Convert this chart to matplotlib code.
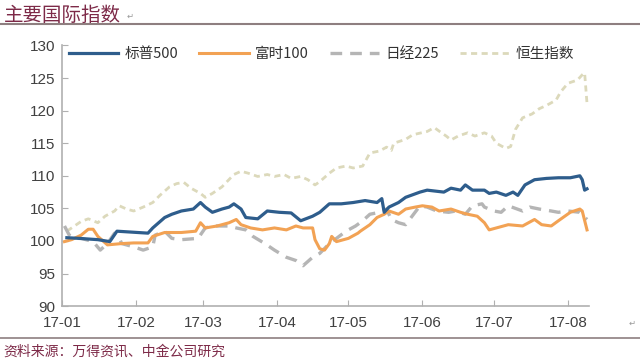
import numpy as np
import pandas as pd
import matplotlib
matplotlib.use('Agg')
import matplotlib.pyplot as plt
import matplotlib.dates as mdates

plt.rcParams['font.family'] = ['Liberation Sans Narrow', 'Liberation Sans', 'Noto Sans CJK SC', 'DejaVu Sans']

## data (index, end 2016 = 100)
spx_dates = ['2017-01-03', '2017-01-08', '2017-01-16', '2017-01-21', '2017-01-24', '2017-02-06',
             '2017-02-08', '2017-02-13', '2017-02-16', '2017-02-20', '2017-02-25', '2017-02-28',
             '2017-03-02', '2017-03-05', '2017-03-09', '2017-03-12', '2017-03-14', '2017-03-17',
             '2017-03-19', '2017-03-24', '2017-03-28', '2017-04-02', '2017-04-07', '2017-04-11',
             '2017-04-16', '2017-04-19', '2017-04-23', '2017-04-28', '2017-05-03', '2017-05-08',
             '2017-05-13', '2017-05-15', '2017-05-16', '2017-05-18', '2017-05-22', '2017-05-25',
             '2017-05-31', '2017-06-03', '2017-06-10', '2017-06-13', '2017-06-17', '2017-06-19',
             '2017-06-22', '2017-06-27', '2017-06-29', '2017-07-02', '2017-07-06', '2017-07-09',
             '2017-07-11', '2017-07-14', '2017-07-18', '2017-07-23', '2017-07-28', '2017-08-02',
             '2017-08-06', '2017-08-07', '2017-08-08', '2017-08-09']
spx = [100.5, 100.4, 100.2, 99.9, 101.5, 101.2,
       102.0, 103.6, 104.1, 104.6, 104.9, 105.9,
       105.2, 104.4, 104.9, 105.2, 105.7, 104.9,
       103.6, 103.4, 104.6, 104.4, 104.3, 103.1,
       103.8, 104.4, 105.7, 105.7, 105.9, 106.2,
       105.9, 106.5, 104.4, 105.2, 105.9, 106.7,
       107.5, 107.8, 107.5, 108.1, 107.8, 108.6,
       107.8, 107.8, 107.3, 107.5, 107.0, 107.5,
       107.0, 108.6, 109.4, 109.6, 109.7, 109.7,
       110.0, 109.4, 107.8, 108.0]

ftse_dates = ['2017-01-02', '2017-01-05', '2017-01-09', '2017-01-12', '2017-01-14', '2017-01-16',
              '2017-01-20', '2017-01-26', '2017-01-31', '2017-02-06', '2017-02-08', '2017-02-13',
              '2017-02-20', '2017-02-26', '2017-02-28', '2017-03-02', '2017-03-07', '2017-03-12',
              '2017-03-15', '2017-03-17', '2017-03-21', '2017-03-26', '2017-03-31', '2017-04-05',
              '2017-04-09', '2017-04-12', '2017-04-16', '2017-04-17', '2017-04-19', '2017-04-21',
              '2017-04-23', '2017-04-24', '2017-04-26', '2017-05-01', '2017-05-05', '2017-05-06',
              '2017-05-10', '2017-05-13', '2017-05-16', '2017-05-18', '2017-05-22', '2017-05-25',
              '2017-05-29', '2017-06-01', '2017-06-05', '2017-06-08', '2017-06-13', '2017-06-17',
              '2017-06-20', '2017-06-24', '2017-06-27', '2017-06-29', '2017-07-02', '2017-07-07',
              '2017-07-13', '2017-07-18', '2017-07-21', '2017-07-25', '2017-07-28', '2017-08-02',
              '2017-08-06', '2017-08-07', '2017-08-09']
ftse = [99.9, 100.2, 100.9, 101.8, 101.8, 100.7,
        99.4, 99.6, 99.7, 99.7, 100.7, 101.3,
        101.3, 101.5, 102.8, 102.0, 102.3, 102.8,
        103.3, 102.5, 102.0, 101.7, 102.0, 101.7,
        102.3, 102.0, 102.0, 100.2, 98.8, 98.6,
        99.6, 100.7, 99.9, 100.4, 101.2, 101.5,
        102.5, 103.6, 104.1, 104.6, 104.1, 104.9,
        105.2, 105.4, 105.2, 104.6, 104.9, 104.4,
        104.1, 103.8, 102.8, 101.7, 102.0, 102.5,
        102.3, 103.3, 102.5, 102.3, 103.1, 104.4,
        104.9, 104.6, 101.7]

nky_dates = ['2017-01-02', '2017-01-04', '2017-01-06', '2017-01-09', '2017-01-14', '2017-01-17',
             '2017-01-20', '2017-01-23', '2017-01-25', '2017-01-26', '2017-01-31', '2017-02-04',
             '2017-02-08', '2017-02-09', '2017-02-13', '2017-02-16', '2017-02-20', '2017-02-27',
             '2017-03-02', '2017-03-05', '2017-03-12', '2017-03-15', '2017-03-19', '2017-03-22',
             '2017-03-27', '2017-03-31', '2017-04-05', '2017-04-09', '2017-04-12', '2017-04-16',
             '2017-04-19', '2017-04-23', '2017-04-26', '2017-04-30', '2017-05-04', '2017-05-07',
             '2017-05-10', '2017-05-14', '2017-05-17', '2017-05-19', '2017-05-22', '2017-05-25',
             '2017-05-31', '2017-06-03', '2017-06-07', '2017-06-12', '2017-06-15', '2017-06-19',
             '2017-06-22', '2017-06-26', '2017-06-27', '2017-07-01', '2017-07-04', '2017-07-07',
             '2017-07-13', '2017-07-16', '2017-07-20', '2017-07-25', '2017-07-28', '2017-08-01',
             '2017-08-06', '2017-08-09']
nky = [102.3, 100.9, 100.4, 100.4, 99.9, 98.6,
       99.6, 101.2, 100.4, 99.6, 99.1, 98.6,
       99.1, 100.9, 101.5, 100.4, 100.2, 100.4,
       102.0, 102.3, 102.3, 102.0, 101.7, 100.7,
       99.6, 98.6, 97.5, 97.0, 96.2, 97.5,
       98.1, 99.6, 100.4, 101.5, 102.3, 103.1,
       104.1, 104.4, 104.9, 103.3, 102.8, 102.5,
       105.4, 105.2, 104.6, 104.4, 104.6, 104.1,
       105.4, 105.7, 105.2, 104.6, 104.4, 105.4,
       104.6, 105.2, 104.9, 104.6, 104.4, 104.6,
       104.4, 103.3]

hsi_dates = ['2017-01-03', '2017-01-09', '2017-01-12', '2017-01-16', '2017-01-19', '2017-01-23',
             '2017-01-25', '2017-01-28', '2017-01-31', '2017-02-04', '2017-02-08', '2017-02-11',
             '2017-02-15', '2017-02-18', '2017-02-21', '2017-02-24', '2017-02-28', '2017-03-02',
             '2017-03-05', '2017-03-09', '2017-03-14', '2017-03-17', '2017-03-20', '2017-03-24',
             '2017-03-28', '2017-03-31', '2017-04-04', '2017-04-07', '2017-04-11', '2017-04-14',
             '2017-04-17', '2017-04-19', '2017-04-23', '2017-04-26', '2017-04-30', '2017-05-03',
             '2017-05-07', '2017-05-10', '2017-05-14', '2017-05-17', '2017-05-19', '2017-05-20',
             '2017-05-25', '2017-05-28', '2017-06-03', '2017-06-06', '2017-06-09', '2017-06-11',
             '2017-06-13', '2017-06-16', '2017-06-20', '2017-06-23', '2017-06-27', '2017-06-30',
             '2017-07-02', '2017-07-06', '2017-07-08', '2017-07-10', '2017-07-13', '2017-07-17',
             '2017-07-20', '2017-07-23', '2017-07-27', '2017-07-29', '2017-08-01', '2017-08-05',
             '2017-08-07', '2017-08-08', '2017-08-09']
hsi = [101.5, 103.0, 103.4, 102.8, 103.8, 104.6,
       105.4, 104.9, 104.6, 105.2, 105.9, 107.0,
       108.3, 108.8, 109.0, 108.1, 107.3, 106.7,
       107.3, 108.3, 110.2, 110.7, 110.4, 109.9,
       110.2, 109.9, 110.2, 109.6, 109.9, 109.4,
       108.6, 109.1, 110.4, 111.2, 111.5, 111.2,
       111.5, 113.5, 113.8, 114.4, 113.9, 115.0,
       115.6, 116.3, 116.8, 117.4, 116.6, 116.1,
       115.5, 116.1, 116.6, 116.1, 116.6, 116.1,
       115.0, 114.2, 114.5, 117.1, 118.9, 119.5,
       120.3, 120.8, 121.6, 122.9, 124.2, 124.7,
       125.5, 125.8, 121.1]

series_names = ['标普500', '富时100', '日经225', '恒生指数']
yticks = [90, 95, 100, 105, 110, 115, 120, 125, 130]


fig = plt.figure(figsize=(6.4, 3.61), dpi=100)
ax = fig.add_axes([0.097, 0.152, 0.823, 0.722])

ax.plot(pd.to_datetime(hsi_dates), hsi, color='#dcd9bb', lw=2.0, dashes=(2.2, 1.6), label=series_names[3])
ax.plot(pd.to_datetime(nky_dates), nky, color='#b5b5b5', lw=2.4, dashes=(3.5, 2.4), label=series_names[2])
ax.plot(pd.to_datetime(ftse_dates), ftse, color='#f2a254', lw=2.2, label=series_names[1])
ax.plot(pd.to_datetime(spx_dates), spx, color='#2e5d8c', lw=2.3, label=series_names[0])

ax.set_ylim(90, 130)
ax.set_yticks(yticks)
ax.set_xlim(pd.Timestamp('2017-01-01'), pd.Timestamp('2017-08-09 18:00'))
ax.xaxis.set_major_locator(mdates.MonthLocator())
ax.xaxis.set_major_formatter(mdates.DateFormatter('%y-%m'))

for s in ['top', 'right']:
    ax.spines[s].set_visible(False)
for s in ['left', 'bottom']:
    ax.spines[s].set_color('#b0b0b0')
    ax.spines[s].set_linewidth(1.2)
ax.tick_params(direction='in', length=4, color='#b0b0b0', labelsize=11, labelcolor='#404040')
ax.tick_params(axis='y', pad=5)
ax.tick_params(axis='x', pad=7)

# legend in drawing order of the reference
h, l = ax.get_legend_handles_labels()
order = [3, 2, 1, 0]
leg = ax.legend([h[i] for i in order], [l[i] for i in order], ncol=4, frameon=False,
                loc='upper left', bbox_to_anchor=(-0.012, 1.045), handlelength=3.4,
                columnspacing=1.45, handletextpad=0.4,
                prop={'family': ['Noto Sans CJK SC'], 'size': 10.5})
for t in leg.get_texts():
    t.set_color('#333333')

# title, source and rules
fig.text(0.006, 0.958, '主要国际指数', family=['Noto Sans CJK SC'], fontsize=14,
         color='#7d2a48', va='center', ha='left')
fig.text(0.197, 0.955, '↵', family=['DejaVu Sans'], fontsize=6, color='#999999', va='center')
fig.add_artist(plt.Line2D([0, 1], [0.934, 0.934], color='#8e7f80', lw=1.5, transform=fig.transFigure))
fig.add_artist(plt.Line2D([0, 1], [0.064, 0.064], color='#8e7f80', lw=1.2, transform=fig.transFigure))
fig.text(0.006, 0.026, '资料来源：万得资讯、中金公司研究', family=['Noto Sans CJK SC'], fontsize=10,
         color='#7d2a48', va='center', ha='left')
fig.text(0.982, 0.105, '↵', family=['DejaVu Sans'], fontsize=6, color='#999999', va='center')

fig.savefig('out.png', dpi=100)
